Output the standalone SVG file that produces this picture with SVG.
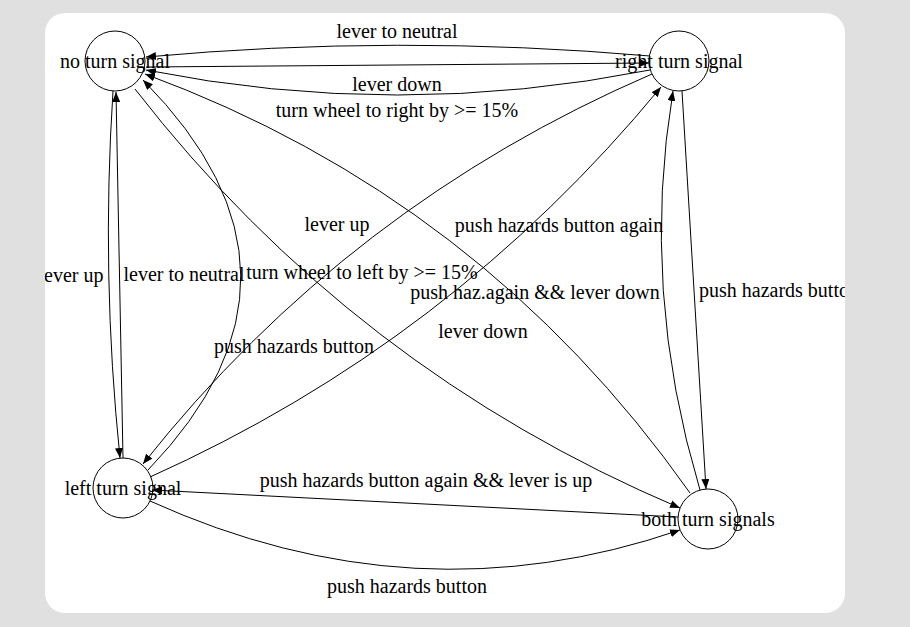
<svg xmlns="http://www.w3.org/2000/svg" width="910" height="627" viewBox="0 0 910 627">
<style>
.e{fill:none;stroke:#000;stroke-width:1;marker-end:url(#ah)}
.n{fill:none;stroke:#000;stroke-width:1}
text{font-family:"Liberation Serif","Times New Roman",serif;font-size:20px;fill:#000;text-anchor:middle}
</style>
<defs>
<marker id="ah" markerUnits="userSpaceOnUse" markerWidth="10" markerHeight="8" refX="10" refY="4" orient="auto"><path d="M0,0 L10,4 L0,8 z" fill="#000"/></marker>
<clipPath id="panel"><rect x="45" y="13" width="800" height="600" rx="20" ry="20"/></clipPath>
</defs>
<rect x="0" y="0" width="910" height="627" fill="#e0e0e0"/>
<rect x="45" y="13" width="800" height="600" rx="20" ry="20" fill="#fff"/>
<g clip-path="url(#panel)">
<g id="connectors">
<path class="e" d="M650,56 Q397,34 146,57"/>
<path class="e" d="M146,67 L649,63"/>
<path class="e" d="M650,70 Q397,120 146,70"/>
<path class="e" d="M652,74 Q348,205 143,464"/>
<path class="e" d="M150,477 Q451,342 661,87"/>
<path class="e" d="M135,89 Q352,369 680,508"/>
<path class="e" d="M690,493 Q482,198 145,74"/>
<path class="e" d="M148,470 Q336,275 143,80"/>
<path class="e" d="M113,91 Q101,275 120,458"/>
<path class="e" d="M123,458 L116,92"/>
<path class="e" d="M682,91 L706,489"/>
<path class="e" d="M700,490 Q640,290 673,91"/>
<path class="e" d="M678,517 L152,490"/>
<path class="e" d="M150,501 Q415,621 680,530"/>
<text x="397" y="38">lever to neutral</text>
<text x="397" y="91">lever down</text>
<text x="397" y="117">turn wheel to right by &gt;= 15%</text>
<text x="337" y="231">lever up</text>
<text x="559" y="232">push hazards button again</text>
<text x="71" y="282">lever up</text>
<text x="184" y="281">lever to neutral</text>
<text x="362" y="279">turn wheel to left by &gt;= 15%</text>
<text x="535" y="299">push haz.again &amp;&amp; lever down</text>
<text x="699" y="297" style="text-anchor:start">push hazards button</text>
<text x="483" y="338">lever down</text>
<text x="294" y="353">push hazards button</text>
<text x="426" y="487">push hazards button again &amp;&amp; lever is up</text>
<text x="407" y="593">push hazards button</text>
</g>
<g id="no-turn-signal"><circle class="n" cx="115" cy="61" r="30"/><text x="115" y="68">no turn signal</text></g>
<g id="right-turn-signal"><circle class="n" cx="679" cy="61" r="30"/><text x="679" y="68">right turn signal</text></g>
<g id="left-turn-signal"><circle class="n" cx="123" cy="488" r="30"/><text x="123" y="495">left turn signal</text></g>
<g id="both-turn-signals"><circle class="n" cx="708" cy="519" r="30"/><text x="708" y="526">both turn signals</text></g>
</g>
</svg>
